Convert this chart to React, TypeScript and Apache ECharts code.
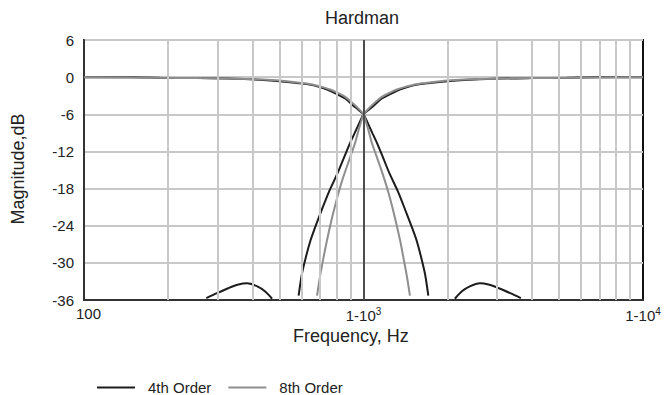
import React, { useEffect, useRef } from "react";
import * as echarts from "echarts";

// ---- data ----
const title = "Hardman";
const xAxisName = "Frequency, Hz";
const yAxisName = "Magnitude,dB";
const yTicks = [-36, -30, -24, -18, -12, -6, 0, 6];
const xLabelValues = [100, 1000, 10000];
const minorGridFreqs = [200, 300, 400, 500, 600, 700, 800, 900, 2000, 3000, 4000, 5000, 6000, 7000, 8000, 9000];
const centerFreq = 1000;

// 4th order low-pass (main lobe)
const lp4Freq = [100, 150, 187, 250, 341, 437, 500, 578, 650, 720, 759, 800, 860, 920, 960, 1000, 1040, 1080, 1114, 1170, 1240, 1332, 1420, 1500, 1549, 1610, 1660, 1706];
const lp4Db = [0, 0, -0.1, -0.15, -0.25, -0.45, -0.65, -0.95, -1.25, -1.8, -2.2, -2.7, -3.45, -4.6, -5.3, -6.0, -7.6, -9.2, -10.5, -12.8, -15.6, -18.6, -21.8, -24.6, -26.4, -29.2, -31.8, -35.3];
// 4th order low-pass side lobe
const lp4SideFreq = [2123, 2250, 2400, 2611, 2800, 3050, 3350, 3656];
const lp4SideDb = [-35.8, -34.6, -33.8, -33.3, -33.5, -34.1, -34.9, -35.7];
// 4th order high-pass (main lobe)
const hp4Freq = [10000, 6670, 5350, 4000, 2930, 2290, 2000, 1730, 1540, 1390, 1317, 1250, 1163, 1087, 1042, 1000, 962, 926, 898, 855, 806, 751, 704, 667, 646, 621, 602, 586];
const hp4Db = [0, 0, -0.1, -0.15, -0.25, -0.45, -0.65, -0.95, -1.25, -1.8, -2.2, -2.7, -3.45, -4.6, -5.3, -6.0, -7.6, -9.2, -10.5, -12.8, -15.6, -18.6, -21.8, -24.6, -26.4, -29.2, -31.8, -35.3];
// 4th order high-pass side lobe
const hp4SideFreq = [471, 444, 417, 383, 357, 328, 299, 274];
const hp4SideDb = [-35.8, -34.6, -33.8, -33.3, -33.5, -34.1, -34.9, -35.7];

// 8th order low-pass
const lp8Freq = [100, 187, 250, 341, 437, 500, 578, 650, 720, 759, 800, 860, 920, 960, 1000, 1020, 1045, 1069, 1110, 1150, 1190, 1227, 1265, 1300, 1352, 1390, 1430, 1466];
const lp8Db = [0, -0.1, -0.15, -0.25, -0.4, -0.55, -0.85, -1.15, -1.65, -2.0, -2.45, -3.2, -4.3, -5.1, -6.0, -7.2, -8.8, -10.5, -12.6, -14.6, -16.6, -18.6, -20.8, -23.0, -26.4, -29.2, -32.2, -35.3];
// 8th order high-pass
const hp8Freq = [10000, 5350, 4000, 2930, 2290, 2000, 1730, 1540, 1390, 1317, 1250, 1163, 1087, 1042, 1000, 980, 957, 935, 901, 870, 840, 815, 791, 769, 740, 719, 699, 682];
const hp8Db = [0, -0.1, -0.15, -0.25, -0.4, -0.55, -0.85, -1.15, -1.65, -2.0, -2.45, -3.2, -4.3, -5.1, -6.0, -7.2, -8.8, -10.5, -12.6, -14.6, -16.6, -18.6, -20.8, -23.0, -26.4, -29.2, -32.2, -35.3];

const seriesNames = ["4th Order", "8th Order"];
const seriesColors = ["#1c1c1c", "#8e8e8e"];

const pairs = (xs: number[], ys: number[]) => xs.map((x, i) => [x, ys[i]]);

export default function App() {
  const ref = useRef<HTMLDivElement>(null);
  useEffect(() => {
    document.body.style.margin = "0";
    const chart = echarts.init(ref.current!, null, { renderer: "svg" });
    const font = "Liberation Sans, Arial, sans-serif";
    const lineSeries = (name: string, color: string, width: number, z: number, data: number[][]) => ({
      type: "line",
      name,
      data,
      symbol: "none",
      smooth: 0.3,
      z,
      lineStyle: { color, width },
      itemStyle: { color },
    });
    const markData: any[] = minorGridFreqs.map((f) => ({ xAxis: f }));
    markData.push({ xAxis: centerFreq, lineStyle: { color: "#4d4d4d", width: 2, type: "solid" } });
    chart.setOption({
      animation: false,
      textStyle: { fontFamily: font },
      title: {
        text: title,
        left: 320,
        top: 4,
        textStyle: { fontSize: 18, fontWeight: "normal", color: "#222", fontFamily: font },
      },
      grid: {
        left: 84,
        right: 27,
        top: 40,
        bottom: 95,
        show: true,
        borderColor: "#111",
        borderWidth: 2,
        backgroundColor: "transparent",
      },
      legend: {
        data: seriesNames,
        left: 92,
        top: 375,
        icon: "rect",
        itemWidth: 38,
        itemHeight: 2,
        itemGap: 17,
        textStyle: { fontSize: 15, color: "#222", fontFamily: font, padding: [0, 0, 0, 8] },
      },
      xAxis: {
        type: "log",
        logBase: 10,
        min: 100,
        max: 10000,
        splitNumber: 2,
        axisLine: { show: true, onZero: false, lineStyle: { color: "#333", width: 2 } },
        axisTick: { show: false },
        splitLine: { show: false },
        axisLabel: {
          margin: 6,
          color: "#222",
          fontSize: 15,
          fontFamily: font,
          formatter: (v: number) => {
            if (!xLabelValues.includes(Math.round(v))) return "";
            if (Math.round(v) === 100) return "{b|100}";
            const e = Math.round(Math.log10(v));
            return "{a|1-10}{s|" + e + "}";
          },
          rich: {
            a: { fontSize: 15, color: "#222", fontFamily: font },
            b: { fontSize: 15, color: "#222", fontFamily: font, padding: [0, 0, 0, 9] },
            s: { fontSize: 10, color: "#222", fontFamily: font, verticalAlign: "top", padding: [0, 0, 8, 0] },
          },
        },
      },
      yAxis: {
        type: "value",
        min: yTicks[0],
        max: yTicks[yTicks.length - 1],
        interval: 6,
        axisLine: { show: true, onZero: false, lineStyle: { color: "#333", width: 2 } },
        axisTick: { show: false },
        splitLine: { show: true, lineStyle: { color: "#c8c8c8", width: 2 } },
        axisLabel: { margin: 10, color: "#222", fontSize: 15, fontFamily: font },
      },
      graphic: [
        {
          type: "text",
          left: 293,
          top: 327,
          style: { text: xAxisName, fontSize: 18, fill: "#222", fontFamily: font },
        },
        {
          type: "text",
          x: 18,
          y: 169,
          rotation: Math.PI / 2,
          style: {
            text: yAxisName,
            fontSize: 18,
            fill: "#222",
            fontFamily: font,
            align: "center",
            verticalAlign: "middle",
          },
        },
      ],
      series: [
        {
          type: "line",
          name: "grid",
          data: [],
          z: 1,
          silent: true,
          markLine: {
            silent: true,
            symbol: "none",
            label: { show: false },
            lineStyle: { color: "#c8c8c8", width: 2, type: "solid" },
            data: markData,
          },
        },
        lineSeries(seriesNames[0], seriesColors[0], 2, 3, pairs(lp4Freq, lp4Db)),
        lineSeries(seriesNames[0], seriesColors[0], 2, 3, pairs(lp4SideFreq, lp4SideDb)),
        lineSeries(seriesNames[0], seriesColors[0], 2, 3, pairs(hp4Freq, hp4Db)),
        lineSeries(seriesNames[0], seriesColors[0], 2, 3, pairs(hp4SideFreq, hp4SideDb)),
        lineSeries(seriesNames[1], seriesColors[1], 2, 4, pairs(lp8Freq, lp8Db)),
        lineSeries(seriesNames[1], seriesColors[1], 2, 4, pairs(hp8Freq, hp8Db)),
      ],
    });
    return () => chart.dispose();
  }, []);
  return <div ref={ref} style={{ width: 670, height: 395 }} />;
}
